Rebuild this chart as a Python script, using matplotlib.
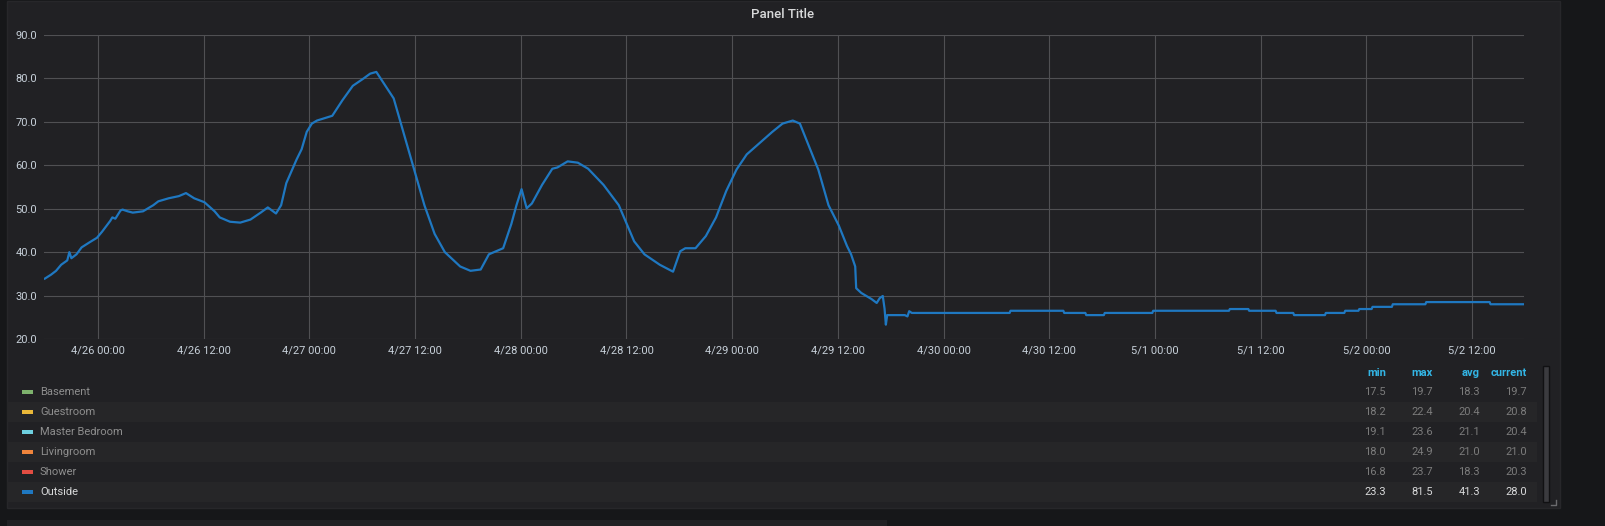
import matplotlib
matplotlib.use('Agg')
import matplotlib.pyplot as plt
import matplotlib.dates as mdates
from matplotlib.patches import Rectangle
from matplotlib.lines import Line2D
import numpy as np
import pandas as pd

# ---- data ----
start = pd.Timestamp('2018-04-26 00:00')

# hours after 4/26 00:00 and outside temperature
hours = [-6.04, -5.34, -4.76, -4.18, -3.49, -3.25, -3.02, -2.44, -1.86, -0.93,
         -0.12, 0.46, 1.39, 1.63, 1.97, 2.56, 2.79, 3.37, 3.95, 5.11,
         6.27, 6.85, 8.02, 9.18, 9.99, 10.92, 12.08, 13.24, 13.82, 14.99,
         16.15, 17.31, 18.47, 19.28, 20.21, 20.79, 21.38, 22.54, 23.12, 23.70,
         24.28, 24.86, 26.60, 27.76, 28.93, 30.09, 30.90, 31.60, 32.41, 33.57,
         34.73, 35.90, 37.06, 38.22, 39.38, 41.12, 42.29, 43.45, 44.38, 45.19,
         46.00, 46.93, 47.51, 48.09, 48.67, 49.26, 50.42, 51.58, 52.16, 53.32,
         54.48, 55.65, 57.39, 59.13, 60.87, 62.04, 63.78, 65.29, 66.10, 66.68,
         67.84, 69.01, 70.17, 71.33, 72.49, 73.65, 75.39, 76.56, 77.72, 78.88,
         79.69, 80.62, 81.78, 82.94, 84.11, 85.04, 85.50, 85.97, 86.08, 86.66,
         87.82, 88.41, 88.75, 89.10, 89.30, 89.45, 89.60, 91.60, 91.90, 92.10,
         92.40, 103.5, 103.6, 109.6, 109.7, 112.1, 112.2, 114.2, 114.3, 119.7,
         119.8, 128.4, 128.5, 130.6, 130.7, 133.7, 133.8, 135.7, 135.8, 139.3,
         139.4, 141.5, 141.6, 143.1, 143.2, 144.6, 144.7, 146.9, 147.0, 150.7,
         150.8, 158.0, 158.1, 162.3]
outside = [33.9, 34.8, 35.7, 37.1, 38.1, 40.0, 38.6, 39.5, 41.1, 42.3,
           43.3, 44.7, 47.2, 48.0, 47.7, 49.6, 49.8, 49.4, 49.1, 49.4,
           50.8, 51.7, 52.4, 52.9, 53.6, 52.4, 51.5, 49.4, 48.0, 47.0,
           46.8, 47.5, 49.1, 50.3, 48.9, 50.8, 55.9, 61.3, 63.7, 67.7,
           69.6, 70.3, 71.4, 75.0, 78.3, 79.9, 81.1, 81.5, 79.0, 75.4,
           67.2, 59.0, 50.8, 44.2, 40.0, 36.7, 35.7, 36.0, 39.5, 40.2,
           40.9, 46.5, 50.8, 54.5, 50.1, 51.2, 55.5, 59.2, 59.5, 60.9,
           60.6, 59.2, 55.5, 50.8, 42.5, 39.5, 37.1, 35.5, 40.2, 40.9,
           40.9, 43.7, 48.0, 54.1, 59.0, 62.5, 65.6, 67.7, 69.6, 70.3,
           69.6, 64.9, 59.0, 50.8, 46.1, 41.4, 39.5, 36.7, 31.7, 30.6,
           29.2, 28.3, 29.4, 29.9, 27.0, 23.3, 25.5, 25.5, 25.2, 26.4,
           26.0, 26.0, 26.5, 26.5, 26.0, 26.0, 25.5, 25.5, 26.0, 26.0,
           26.5, 26.5, 26.9, 26.9, 26.5, 26.5, 26.0, 26.0, 25.5, 25.5,
           26.0, 26.0, 26.5, 26.5, 26.9, 26.9, 27.4, 27.4, 28.0, 28.0,
           28.5, 28.5, 28.0, 28.0]

series_names = ['Basement', 'Guestroom', 'Master Bedroom', 'Livingroom', 'Shower', 'Outside']
series_colors = ['#7eb26d', '#eab839', '#6ed0e0', '#ef843c', '#e24d42', '#1f78c1']
stat_headers = ['min', 'max', 'avg', 'current']
stat_min = [17.5, 18.2, 19.1, 18.0, 16.8, 23.3]
stat_max = [19.7, 22.4, 23.6, 24.9, 23.7, 81.5]
stat_avg = [18.3, 20.4, 21.1, 21.0, 18.3, 41.3]
stat_cur = [19.7, 20.8, 20.4, 21.0, 20.3, 28.0]

yticks = [20, 30, 40, 50, 60, 70, 80, 90]

# ---- figure ----
plt.rcParams['font.family'] = ['Roboto', 'DejaVu Sans']
W, H = 1605, 526
fig = plt.figure(figsize=(W / 100, H / 100), dpi=100, facecolor='#161719')


def fx(x):
    return x / W


def fy(y):
    return 1 - y / H


# panels (behind the axes)
fig.patches.append(Rectangle((fx(7), fy(508)), fx(1560 - 7), (508 - 1) / H,
                             transform=fig.transFigure, facecolor='#212124',
                             edgecolor='#27272a', lw=1, zorder=-2))
fig.patches.append(Rectangle((fx(7), fy(528)), fx(887 - 7), 8 / H,
                             transform=fig.transFigure, facecolor='#212124',
                             edgecolor='none', zorder=-2))

fig.text(fx(783), fy(15), 'Panel Title', ha='center', va='center',
         color='#d8d9da', fontsize=9.5, fontweight='medium')

ax = fig.add_axes([fx(44), fy(339), fx(1524 - 44), (339 - 35) / H])
ax.set_facecolor('none')

times = start + pd.to_timedelta(hours, unit='h')
ax.plot(times, outside, color='#1f78c1', lw=1.6, solid_joinstyle='round')

ax.set_ylim(20, 90)
ax.set_yticks(yticks)
ax.set_yticklabels([f'{v:.1f}' for v in yticks])
ax.set_xlim(start - pd.Timedelta(hours=6.13), start + pd.Timedelta(hours=161.9))

ax.xaxis.set_major_locator(mdates.HourLocator(byhour=[0, 12]))
ax.xaxis.set_major_formatter(plt.FuncFormatter(
    lambda v, p: (lambda d: f'{d.month}/{d.day} {d:%H:%M}')(mdates.num2date(v))))

ax.grid(True, color='#505053', lw=0.8)
ax.set_axisbelow(True)
for s in ax.spines.values():
    s.set_visible(False)
ax.tick_params(length=0, colors='#c7d0d9', labelsize=8, pad=5)

# ---- legend table ----
col_right = [1386, 1433, 1480, 1527]
for hdr, xr in zip(stat_headers, col_right):
    fig.text(fx(xr), fy(373), hdr, ha='right', va='center',
             color='#33b5e5', fontsize=8, fontweight='bold')

for i, name in enumerate(series_names):
    yc = 392 + 20 * i
    if i % 2 == 1:
        fig.patches.append(Rectangle((fx(7), fy(yc + 10)), fx(1537 - 7), 20 / H,
                                     transform=fig.transFigure,
                                     facecolor='#262628', edgecolor='none', zorder=-1))
    fig.patches.append(Rectangle((fx(22), fy(yc + 2)), fx(11), 4 / H,
                                 transform=fig.transFigure,
                                 facecolor=series_colors[i], edgecolor='none', zorder=1))
    bright = name == 'Outside'
    fig.text(fx(40), fy(yc), name, ha='left', va='center',
             color='#d8d9da' if bright else '#8e8e8e', fontsize=8)
    vals = [stat_min[i], stat_max[i], stat_avg[i], stat_cur[i]]
    for v, xr in zip(vals, col_right):
        fig.text(fx(xr), fy(yc), f'{v:.1f}', ha='right', va='center',
                 color='#d8d9da' if bright else '#7b7b7b', fontsize=8)

# scrollbar and resize corner
fig.patches.append(Rectangle((fx(1543), fy(502)), fx(6), (502 - 366) / H,
                             transform=fig.transFigure, facecolor='#3b3b3f',
                             edgecolor='#111113', lw=1, zorder=1))
fig.lines.append(Line2D([fx(1551), fx(1556), fx(1556)], [fy(505), fy(505), fy(500)],
                        transform=fig.transFigure, color='#6b6b6e', lw=1))

fig.savefig('out.png', dpi=100, facecolor=fig.get_facecolor())
